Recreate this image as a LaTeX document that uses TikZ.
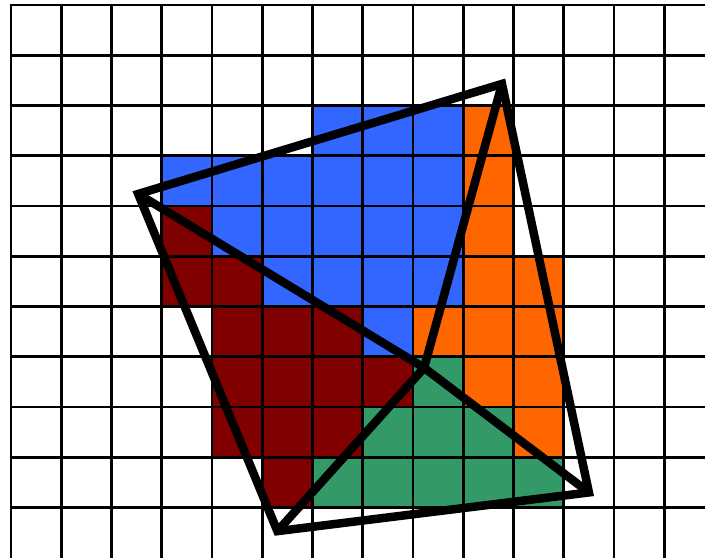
\documentclass[tikz,border=0pt]{standalone}
\usepackage{tikz}
\definecolor{cellblue}{HTML}{3366FF}
\definecolor{cellred}{HTML}{800000}
\definecolor{cellorange}{HTML}{FF6600}
\definecolor{cellgreen}{HTML}{339966}

\begin{document}
\begin{tikzpicture}[gridline/.style={line width=1.5pt,line cap=rect},
                    edge/.style={line width=4.8pt,line join=miter}]
  \useasboundingbox (-0.22,0) rectangle (13.81,11.1);
  \clip (-0.22,0) rectangle (13.81,11.1);
  % cells, row counted from the top: row/first col/last col
  \foreach \r/\a/\b in {2/6/8,3/3/8,4/4/8,5/5/8,6/7/7}
    \foreach \c in {\a,...,\b}
      \fill[cellblue] (\c,10-\r) rectangle ++(1,1);
  \foreach \r/\a/\b in {2/9/9,3/9/9,4/9/9,5/9/10,6/8/10,7/9/10,8/10/10}
    \foreach \c in {\a,...,\b}
      \fill[cellorange] (\c,10-\r) rectangle ++(1,1);
  \foreach \r/\a/\b in {4/3/3,5/3/4,6/4/6,7/4/7,8/4/6,9/5/5}
    \foreach \c in {\a,...,\b}
      \fill[cellred] (\c,10-\r) rectangle ++(1,1);
  \foreach \r/\a/\b in {7/8/8,8/7/9,9/6/10}
    \foreach \c in {\a,...,\b}
      \fill[cellgreen] (\c,10-\r) rectangle ++(1,1);
  % grid
  \foreach \x in {0,...,13}
    \draw[gridline] (\x,0) -- (\x,11);
  \foreach \y in {1,...,11}
    \draw[gridline] (0,\y) -- (13.9,\y);
  % quadrilateral and inner point
  \coordinate (A) at (2.53,7.24);
  \coordinate (B) at (9.77,9.43);
  \coordinate (C) at (11.50,1.30);
  \coordinate (D) at (5.30,0.53);
  \coordinate (P) at (8.22,3.78);
  \draw[edge] (A) -- (B) -- (C) -- (D) -- cycle;
  \draw[edge] (A) -- (P) -- (C);
  \draw[edge] (B) -- (P) -- (D);
\end{tikzpicture}
\end{document}
